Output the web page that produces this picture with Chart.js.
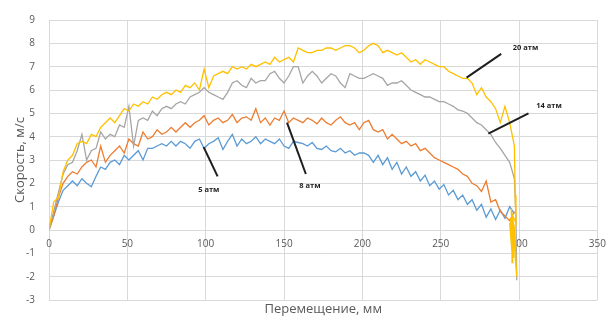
<!DOCTYPE html>
<html>
<head>
<meta charset="utf-8">
<script src="https://cdn.jsdelivr.net/npm/chart.js@4.4.1/dist/chart.umd.min.js"></script>
<style>
html, body { margin: 0; padding: 0; background: #fff; }
</style>
</head>
<body>
<canvas id="myChart" width="614" height="320"></canvas>
<script>
// displacement, mm (shared by all four runs)
const posMm = [0, 3, 6, 9, 12, 15, 18, 21, 24, 27, 30, 33, 36, 39, 42, 45, 48, 51, 54, 57,
  60, 63, 66, 69, 72, 75, 78, 81, 84, 87, 90, 93, 96, 99, 102, 105, 108, 111, 114, 117,
  120, 123, 126, 129, 132, 135, 138, 141, 144, 147, 150, 153, 156, 159, 162, 165, 168, 171, 174, 177,
  180, 183, 186, 189, 192, 195, 198, 201, 204, 207, 210, 213, 216, 219, 222, 225, 228, 231, 234, 237,
  240, 243, 246, 249, 252, 255, 258, 261, 264, 267, 270, 273, 276, 279, 282, 285, 288, 291, 294, 297];

// speed, m/s
const speed5 = [0, 0.6, 1.2, 1.7, 1.9, 2.1, 1.9, 2.2, 2.0, 1.85, 2.3, 2.7, 2.6, 2.9, 3.0, 2.8, 3.2, 3.0, 3.2, 3.4,
  3.0, 3.5, 3.5, 3.6, 3.7, 3.6, 3.8, 3.6, 3.8, 3.7, 3.5, 3.8, 3.9, 3.5, 3.7, 3.8, 3.95, 3.45, 3.8, 4.1,
  3.6, 3.9, 3.7, 3.8, 4.0, 3.7, 3.9, 3.8, 3.7, 3.9, 3.6, 3.5, 3.8, 3.75, 3.7, 3.6, 3.75, 3.5, 3.45, 3.6,
  3.4, 3.35, 3.5, 3.3, 3.4, 3.2, 3.3, 3.3, 3.2, 2.9, 3.2, 2.8, 3.1, 2.6, 2.9, 2.4, 2.7, 2.3, 2.5, 2.1,
  2.35, 1.9, 2.1, 1.75, 1.95, 1.5, 1.7, 1.3, 1.5, 1.1, 1.3, 0.85, 1.1, 0.55, 0.9, 0.45, 0.85, 0.5, 1.0, 0.7];

const speed8 = [0, 0.6, 1.4, 2.0, 2.3, 2.5, 2.4, 2.7, 2.9, 3.0, 2.7, 3.6, 2.9, 3.2, 3.4, 3.6, 3.3, 3.9, 3.7, 3.6,
  4.2, 3.9, 4.0, 4.3, 4.1, 4.2, 4.4, 4.2, 4.4, 4.6, 4.4, 4.6, 4.7, 4.9, 4.5, 4.7, 4.8, 4.6, 4.7, 4.95,
  4.6, 4.8, 4.85, 4.7, 5.2, 4.6, 4.8, 4.5, 4.8, 4.7, 5.1, 4.6, 4.8, 4.7, 4.6, 4.8, 4.7, 4.55, 4.8, 4.6,
  4.5, 4.7, 4.85, 4.6, 4.5, 4.6, 4.3, 4.6, 4.7, 4.3, 4.2, 4.3, 3.9, 4.1, 3.9, 3.7, 3.8, 3.6, 3.7, 3.4,
  3.5, 3.3, 3.1, 3.0, 2.9, 2.8, 2.7, 2.6, 2.4, 2.3, 2.0, 1.9, 1.65, 2.1, 1.2, 1.3, 0.8, 0.6, 0.4, 0.8];

const speed14 = [0, 0.8, 1.6, 2.4, 2.8, 2.9, 3.4, 4.1, 3.0, 3.4, 3.5, 4.2, 3.9, 4.1, 4.0, 4.5, 4.4, 5.3, 3.6, 4.7,
  4.8, 4.7, 5.1, 4.9, 5.2, 5.3, 5.2, 5.4, 5.5, 5.4, 5.7, 5.8, 5.9, 6.1, 5.9, 5.8, 5.7, 5.6, 5.9, 6.3,
  6.4, 6.2, 6.1, 6.5, 6.3, 6.4, 6.4, 6.7, 6.8, 6.5, 6.3, 6.6, 7.0, 7.0, 6.3, 6.6, 6.8, 6.6, 6.3, 6.5,
  6.7, 6.6, 6.3, 6.1, 6.7, 6.6, 6.5, 6.5, 6.6, 6.7, 6.6, 6.5, 6.2, 6.3, 6.3, 6.4, 6.2, 6.0, 5.9, 5.8,
  5.7, 5.7, 5.6, 5.5, 5.5, 5.4, 5.3, 5.15, 5.1, 5.0, 4.8, 4.6, 4.5, 4.3, 4.1, 3.75, 3.5, 3.2, 2.9, 2.2];

const speed20 = [0, 1.2, 1.4, 2.5, 3.0, 3.2, 3.7, 3.8, 3.7, 4.1, 4.0, 4.4, 4.6, 4.8, 4.6, 4.9, 5.2, 5.1, 5.4, 5.3,
  5.5, 5.4, 5.7, 5.6, 5.8, 5.9, 5.8, 6.0, 5.9, 6.2, 6.1, 6.3, 6.0, 6.9, 6.1, 6.6, 6.7, 6.8, 6.7, 7.0,
  6.9, 7.0, 6.9, 7.1, 7.0, 7.1, 7.2, 7.1, 7.4, 7.2, 7.3, 7.4, 7.2, 7.8, 7.7, 7.6, 7.6, 7.7, 7.7, 7.8,
  7.8, 7.7, 7.8, 7.9, 7.9, 7.8, 7.6, 7.7, 7.9, 8.0, 7.9, 7.6, 7.7, 7.6, 7.5, 7.6, 7.4, 7.2, 7.3, 7.1,
  7.3, 7.2, 7.1, 7.0, 7.0, 6.8, 6.7, 6.6, 6.5, 6.5, 6.3, 5.8, 6.1, 5.7, 5.5, 5.2, 4.6, 5.3, 4.6, 3.6];

// rebound at the end of the stroke
const tailPos14 = [298, 298.5];
const tailSpeed14 = [0.6, -2.15];
const tailPos20 = [297.5, 298, 295.5, 297.5, 294.5, 296.5, 295, 298, 294, 296, 295.5, 298.5, 297, 295, 296.5];
const tailSpeed20 = [1.5, 0.3, 0.7, -1.0, 0.5, -1.2, 0.9, -0.8, 0.3, -1.4, 0.6, -2.0, 0.1, 0.8, -0.6];

const seriesNames = ['5 атм', '8 атм', '14 атм', '20 атм'];
const xTickValues = [0, 50, 100, 150, 200, 250, 300, 350];
const yTickValues = [-3, -2, -1, 0, 1, 2, 3, 4, 5, 6, 7, 8, 9];

// callout labels: text anchor and pointer line, in data units
const noteAt = [[102, 1.7], [166.5, 1.9], [311, 5.3], [296, 7.8]];
const notePointer = [[107.6, 2.3, 98.7, 3.55], [163.9, 2.4, 151.9, 4.6], [306, 5.0, 280.4, 4.13], [288.6, 7.55, 266.5, 6.53]];

function toPoints(xs, ys) {
  return xs.map((x, i) => ({x: x, y: ys[i]}));
}

const gridColor = '#d9d9d9';
const textColor = '#595959';

const notesPlugin = {
  id: 'notes',
  afterDatasetsDraw(chart) {
    const ctx = chart.ctx;
    const xs = chart.scales.x, ys = chart.scales.y;
    ctx.save();
    ctx.strokeStyle = '#1e1e1e';
    ctx.lineWidth = 2;
    notePointer.forEach(p => {
      ctx.beginPath();
      ctx.moveTo(xs.getPixelForValue(p[0]), ys.getPixelForValue(p[1]));
      ctx.lineTo(xs.getPixelForValue(p[2]), ys.getPixelForValue(p[3]));
      ctx.stroke();
    });
    ctx.fillStyle = '#1e1e1e';
    ctx.font = 'bold 7.5px "Open Sans"';
    ctx.textBaseline = 'middle';
    noteAt.forEach((p, i) => {
      ctx.textAlign = i < 2 ? 'center' : 'left';
      ctx.fillText(seriesNames[i], xs.getPixelForValue(p[0]), ys.getPixelForValue(p[1]));
    });
    ctx.restore();
  }
};

const colors = ['#5b9bd5', '#ed7d31', '#a5a5a5', '#ffc000'];
const allData = [
  toPoints(posMm, speed5),
  toPoints(posMm, speed8),
  toPoints(posMm, speed14).concat(toPoints(tailPos14, tailSpeed14)),
  toPoints(posMm, speed20).concat(toPoints(tailPos20, tailSpeed20))
];

const ctx = document.getElementById('myChart').getContext('2d');
const myChart = new Chart(ctx, {
  type: 'scatter',
  data: {
    datasets: allData.map((d, i) => ({
      label: seriesNames[i],
      data: d,
      showLine: true,
      borderColor: colors[i],
      backgroundColor: colors[i],
      borderWidth: 1.3,
      pointRadius: 0,
      tension: 0,
      order: 3 - i
    }))
  },
  options: {
    responsive: false,
    animation: false,
    devicePixelRatio: 1,
    layout: { padding: { top: 15, right: 12, left: 0, bottom: 0 } },
    plugins: { legend: { display: false }, tooltip: { enabled: false } },
    scales: {
      x: {
        type: 'linear',
        position: { y: 0 },
        min: 0, max: 350,
        afterBuildTicks: s => { s.ticks = xTickValues.map(v => ({value: v})); },
        grid: { color: gridColor, drawTicks: false },
        border: { color: gridColor },
        ticks: { color: textColor, font: { family: 'Open Sans', size: 10 }, padding: 8, maxRotation: 0 }
      },
      xTitle: {
        type: 'linear',
        position: 'bottom',
        min: 0, max: 350,
        grid: { display: false, drawTicks: false },
        border: { display: false },
        ticks: { display: false },
        title: { display: true, text: 'Перемещение, мм', color: textColor, font: { family: 'Open Sans', size: 13 }, padding: { top: 0, bottom: 3 } },
        afterFit: s => { s.height = 20; }
      },
      y: {
        type: 'linear',
        min: -3, max: 9,
        afterBuildTicks: s => { s.ticks = yTickValues.map(v => ({value: v})); },
        afterFit: s => { s.width = 49; },
        grid: { color: gridColor, drawTicks: false },
        border: { display: false },
        ticks: { color: textColor, font: { family: 'Open Sans', size: 10 }, padding: 14 },
        title: { display: true, text: 'Скорость, м/с', color: textColor, font: { family: 'Open Sans', size: 13 }, padding: { top: 12, bottom: 0 } }
      }
    }
  },
  plugins: [notesPlugin]
});
</script>
</body>
</html>
